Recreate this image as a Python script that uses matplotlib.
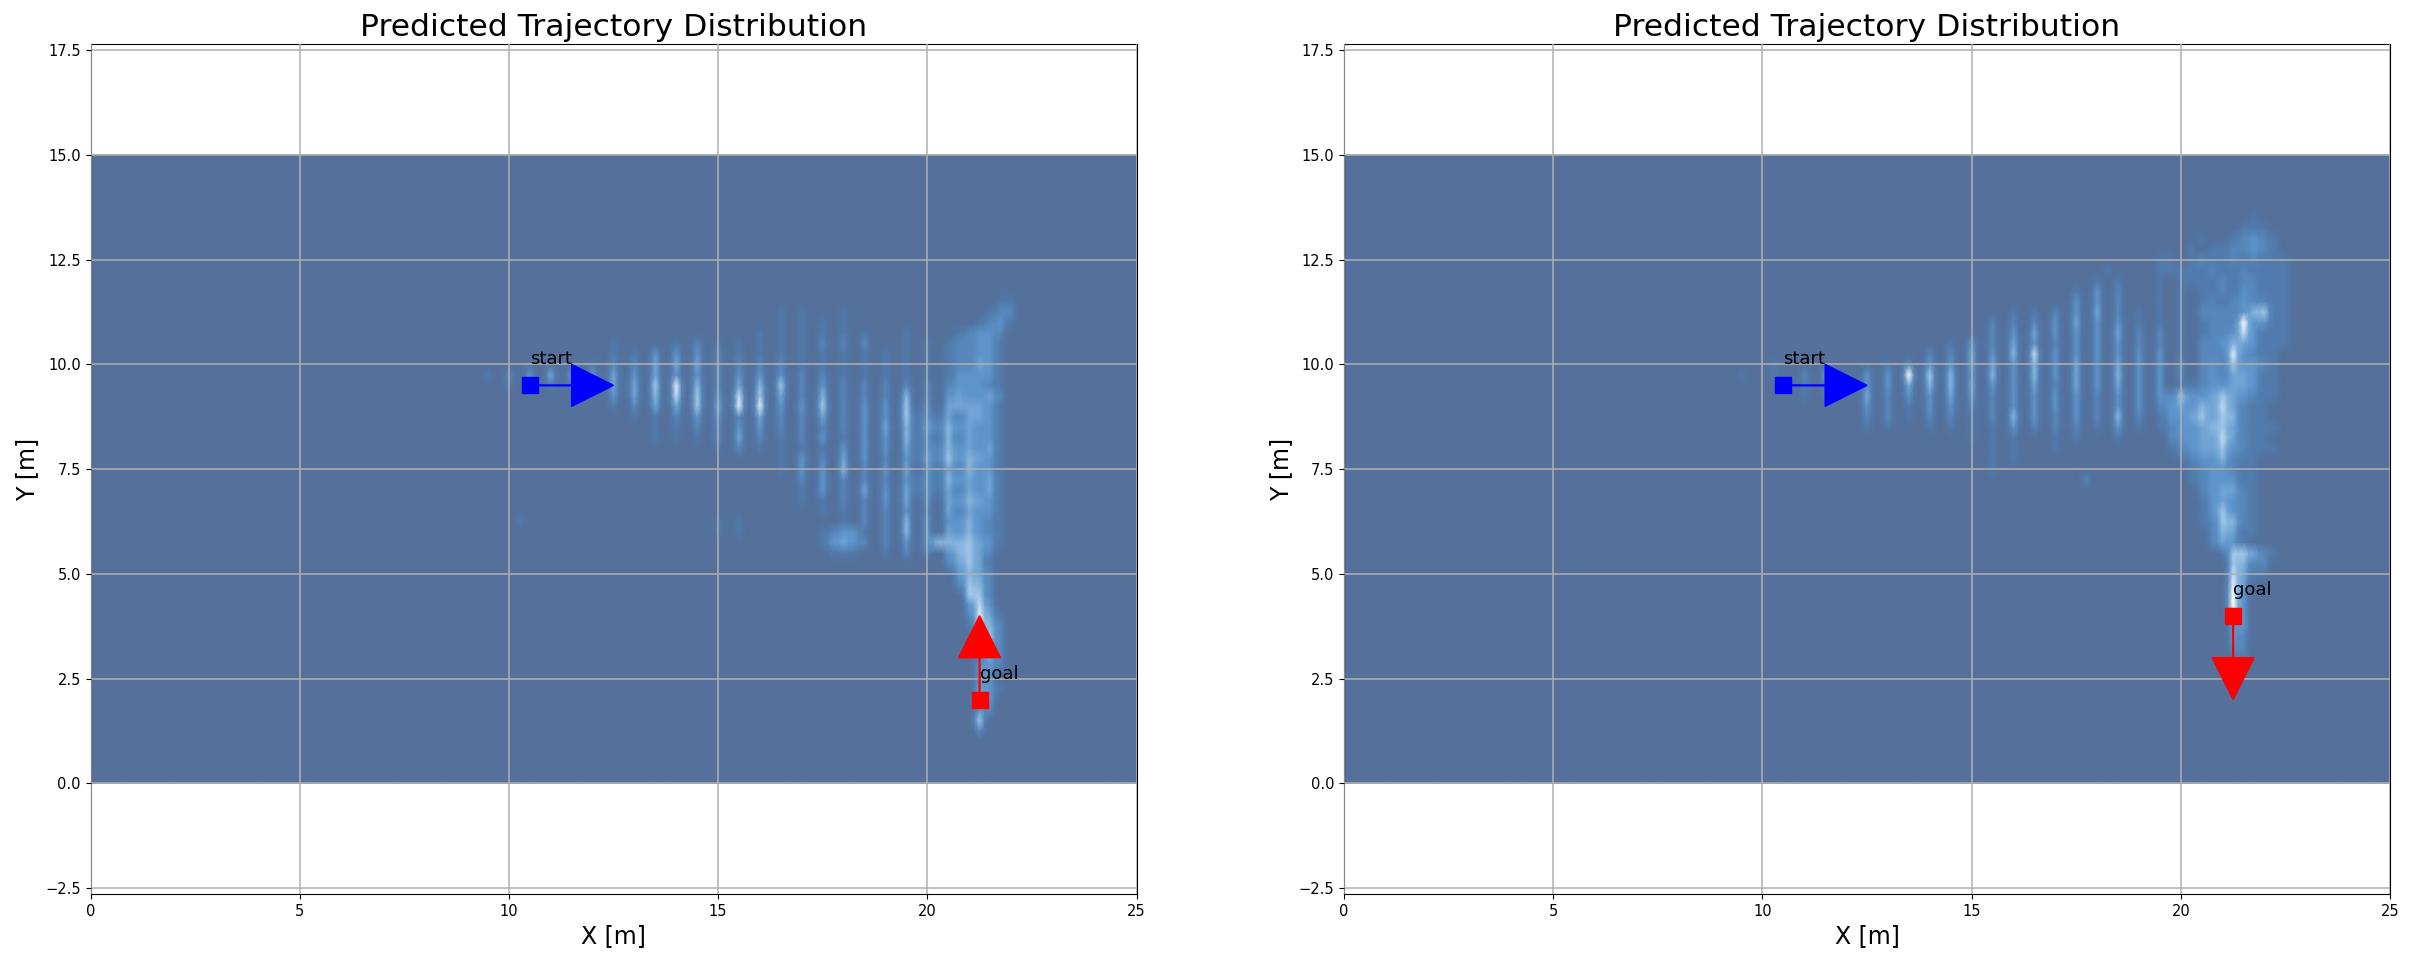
import numpy as np
import matplotlib
matplotlib.use('Agg')
import matplotlib.pyplot as plt
from matplotlib.colors import LinearSegmentedColormap

# heat values, 0-9, one digit per 0.25 m, one group per metre
left_x0 = 9
left_ytop = 11.5
left_rows = [
    "0000 0000 0000 0000 0000 0000 0000 0000 0000 0000 0000 0000 0001 1000",
    "0000 0000 0000 0000 0000 0000 0000 0010 1000 1000 0000 0000 0012 2000",
    "0000 0000 0000 0000 0000 0000 0000 0010 1010 1000 0000 0000 0123 1000",
    "0000 0000 0000 0000 0000 0000 0000 1010 1010 1010 0010 0001 2332 0000",
    "0000 0000 0000 0010 0000 1020 1010 1010 1020 2020 0010 1012 2331 0000",
    "0000 0000 0000 0010 1030 3030 2010 1010 1010 1010 1010 1012 2331 0000",
    "0000 0000 0000 1020 2040 4040 2020 2020 1010 1010 1010 1012 2431 0000",
    "0010 2030 4030 3040 3040 3030 2030 3030 2020 1010 1010 1013 3331 0000",
    "0000 1010 1010 1040 4060 8050 2040 5060 2030 2020 2020 2023 3321 0000",
    "0000 0000 0000 0030 4050 7060 3070 6040 2050 2020 2050 2034 3342 0000",
    "0000 0000 0000 0010 2040 4060 4080 8030 3060 2030 3060 3044 4431 0000",
    "0000 0000 0000 0000 1010 2030 3020 4020 2040 2030 3061 3142 4431 0000",
    "0000 0000 0000 0000 0010 1020 2030 3020 2020 2030 4051 4253 4331 0000",
    "0000 0000 0000 0000 0010 1010 2040 2010 2030 1030 3051 3152 4331 0000",
    "0000 0000 0000 0000 0000 0000 1020 1010 1010 3030 3041 3253 4341 0000",
    "0000 0000 0000 0000 0000 0000 0000 0010 3020 4030 2031 4263 5431 0000",
    "0000 0000 0000 0000 0000 0000 0000 0010 3030 5020 3040 3142 5331 0000",
    "0000 0000 0000 0000 0000 0000 0000 0000 2030 2020 2031 3153 4341 0000",
    "0000 0000 0000 0000 0000 0000 0000 0000 1030 2040 3041 3142 4341 0000",
    "0000 0000 0000 0000 0000 0000 0000 0000 1010 2020 3040 3043 5431 0000",
    "0000 0000 0000 0000 0000 0000 0000 0000 0010 1020 2030 2042 4331 0000",
    "0000 0100 0000 0000 0000 0000 1010 0000 0000 1020 2050 3033 5321 0000",
    "0000 0000 0000 0000 0000 0000 1010 0000 0012 3310 2050 3043 5321 0000",
    "0000 0000 0000 0000 0000 0000 0000 0000 0013 4320 2030 3555 6431 0000",
    "0000 0000 0000 0000 0000 0000 0000 0000 0001 1100 1020 2035 6420 0000",
    "0000 0000 0000 0000 0000 0000 0000 0000 0000 0000 0000 0024 6410 0000",
    "0000 0000 0000 0000 0000 0000 0000 0000 0000 0000 0000 0003 5420 0000",
    "0000 0000 0000 0000 0000 0000 0000 0000 0000 0000 0000 0002 6520 0000",
    "0000 0000 0000 0000 0000 0000 0000 0000 0000 0000 0000 0000 6620 0000",
    "0000 0000 0000 0000 0000 0000 0000 0000 0000 0000 0000 0000 3730 0000",
    "0000 0000 0000 0000 0000 0000 0000 0000 0000 0000 0000 0000 2841 0000",
    "0000 0000 0000 0000 0000 0000 0000 0000 0000 0000 0000 0000 1752 0000",
    "0000 0000 0000 0000 0000 0000 0000 0000 0000 0000 0000 0000 0462 0000",
    "0000 0000 0000 0000 0000 0000 0000 0000 0000 0000 0000 0000 0252 0000",
    "0000 0000 0000 0000 0000 0000 0000 0000 0000 0000 0000 0000 0242 0000",
    "0000 0000 0000 0000 0000 0000 0000 0000 0000 0000 0000 0000 0331 0000",
    "0000 0000 0000 0000 0000 0000 0000 0000 0000 0000 0000 0000 0330 0000",
    "0000 0000 0000 0000 0000 0000 0000 0000 0000 0000 0000 0000 0431 0000",
    "0000 0000 0000 0000 0000 0000 0000 0000 0000 0000 0000 0000 0430 0000",
    "0000 0000 0000 0000 0000 0000 0000 0000 0000 0000 0000 0000 0320 0000",
    "0000 0000 0000 0000 0000 0000 0000 0000 0000 0000 0000 0000 0600 0000",
    "0000 0000 0000 0000 0000 0000 0000 0000 0000 0000 0000 0000 0200 0000",
]

right_x0 = 9
right_ytop = 14.0
right_rows = [
    "0000 0000 0000 0000 0000 0000 0000 0000 0000 0000 0000 0000 0000 0000 0000 0000",
    "0000 0000 0000 0000 0000 0000 0000 0000 0000 0000 0000 0000 0000 0000 0000 0000",
    "0000 0000 0000 0000 0000 0000 0000 0000 0000 0000 0000 0000 0001 0000 0000 0000",
    "0000 0000 0000 0000 0000 0000 0000 0000 0000 0000 0000 0000 0011 1000 0000 0000",
    "0000 0000 0000 0000 0000 0000 0000 0000 0000 0000 0000 0010 0123 2100 0000 0000",
    "0000 0000 0000 0000 0000 0000 0000 0000 0000 0000 0000 0101 1223 2100 0000 0000",
    "0000 0000 0000 0000 0000 0000 0000 0000 0000 0000 0011 0121 1212 1110 0000 0000",
    "0000 0000 0000 0000 0000 0000 0000 0000 0000 0100 0011 1112 1121 1110 0000 0000",
    "0000 0000 0000 0000 0000 0000 0000 0000 0000 1010 0010 1111 2122 1110 0000 0000",
    "0000 0000 0000 0000 0000 0000 0000 0000 0010 3020 0010 1011 2132 1110 0000 0000",
    "0000 0000 0000 0000 0000 0000 0000 0000 0030 3020 0010 1012 1232 2110 0000 0000",
    "0000 0000 0000 0000 0000 0000 0000 1010 2030 4020 1010 1022 2235 6110 0000 0000",
    "0000 0000 0000 0000 0000 0000 0020 2020 3040 3030 1010 1012 2293 3110 0000 0000",
    "0000 0000 0000 0000 0000 0000 0020 3040 3030 3040 2020 1012 2373 1110 0000 0000",
    "0000 0000 0000 0000 0000 0010 3020 4030 2030 3030 2020 1022 3543 1110 0000 0000",
    "0000 0000 0000 0000 0000 2020 4030 5070 3030 3030 3030 1022 2832 1100 0000 0000",
    "0000 0100 0000 0000 1020 3030 4040 3050 3040 3040 3030 2023 2633 2100 0000 0000",
    "0010 0100 2030 1030 3090 6050 3050 3050 3040 3050 3030 2023 2443 1100 0000 0000",
    "0000 0000 1010 0030 3040 5050 4030 3040 2040 3040 3030 1123 3443 1100 0000 0000",
    "0000 0000 1010 0040 2030 3040 3020 3030 3030 2030 3032 6334 6432 1100 0000 0000",
    "0000 0000 0000 0030 2010 3030 2020 3030 3030 2030 3023 4354 7421 1000 0000 0000",
    "0000 0000 0000 0020 2010 2020 1020 5030 2030 2050 2013 3464 6521 1000 0000 0000",
    "0000 0000 0000 0010 1000 1010 1010 3020 2020 1030 1012 3345 6421 1100 0000 0000",
    "0000 0000 0000 0000 0000 0000 1010 1000 1010 0010 0002 3344 7421 1000 0000 0000",
    "0000 0000 0000 0000 0000 0000 0010 1000 1000 0000 0001 2344 6321 1100 0000 0000",
    "0000 0000 0000 0000 0000 0000 0010 1000 0000 0000 0000 1233 5211 0000 0000 0000",
    "0000 0000 0000 0000 0000 0000 0010 0000 0000 0000 0000 0123 3211 0000 0000 0000",
    "0000 0000 0000 0000 0000 0000 0000 0000 0002 0000 0000 0123 3311 0000 0000 0000",
    "0000 0000 0000 0000 0000 0000 0000 0000 0000 0000 0000 0023 4421 0000 0000 0000",
    "0000 0000 0000 0000 0000 0000 0000 0000 0000 0000 0000 0013 4321 0000 0000 0000",
    "0000 0000 0000 0000 0000 0000 0000 0000 0000 0000 0000 0013 6321 0000 0000 0000",
    "0000 0000 0000 0000 0000 0000 0000 0000 0000 0000 0000 0012 6521 0000 0000 0000",
    "0000 0000 0000 0000 0000 0000 0000 0000 0000 0000 0000 0002 5411 0000 0000 0000",
    "0000 0000 0000 0000 0000 0000 0000 0000 0000 0000 0000 0002 4310 0000 0000 0000",
    "0000 0000 0000 0000 0000 0000 0000 0000 0000 0000 0000 0000 1664 2100 0000 0000",
    "0000 0000 0000 0000 0000 0000 0000 0000 0000 0000 0000 0000 0652 2000 0000 0000",
    "0000 0000 0000 0000 0000 0000 0000 0000 0000 0000 0000 0000 0741 1000 0000 0000",
    "0000 0000 0000 0000 0000 0000 0000 0000 0000 0000 0000 0000 0840 0000 0000 0000",
    "0000 0000 0000 0000 0000 0000 0000 0000 0000 0000 0000 0000 0930 0000 0000 0000",
    "0000 0000 0000 0000 0000 0000 0000 0000 0000 0000 0000 0000 0930 0000 0000 0000",
    "0000 0000 0000 0000 0000 0000 0000 0000 0000 0000 0000 0000 0630 0000 0000 0000",
    "0000 0000 0000 0000 0000 0000 0000 0000 0000 0000 0000 0000 0330 0000 0000 0000",
    "0000 0000 0000 0000 0000 0000 0000 0000 0000 0000 0000 0000 0320 0000 0000 0000",
    "0000 0000 0000 0000 0000 0000 0000 0000 0000 0000 0000 0000 0220 0000 0000 0000",
    "0000 0000 0000 0000 0000 0000 0000 0000 0000 0000 0000 0000 0110 0000 0000 0000",
]

start_x = 10.5
start_y = 9.5
left_goal = (21.25, 2.0)
right_goal = (21.25, 4.0)
left_goal_dir = 1.0
right_goal_dir = -1.0
x_ticks = [0, 5, 10, 15, 20, 25]
y_ticks = [-2.5, 0, 2.5, 5, 7.5, 10, 12.5, 15, 17.5]

heat_cmap = LinearSegmentedColormap.from_list(
    'heat', [(0, '#54709b'), (0.12, '#517cae'), (0.35, '#5f96cc'), (0.6, '#8fbbe2'),
             (0.8, '#c6def2'), (1, '#ffffff')])


def make_grid(rows, x0, ytop):
    xs = np.arange(0, 25.25, 0.25)
    ys = np.arange(0, 15.25, 0.25)
    grid = np.zeros((len(ys), len(xs)))
    for r, row in enumerate(rows):
        digits = row.replace(' ', '')
        j = int(round((ytop - r * 0.25) / 0.25))
        i0 = int(round(x0 / 0.25))
        grid[j, i0:i0 + len(digits)] = [int(d) for d in digits]

    # extra nodes half way between columns, keeps the stripes thin
    fine = np.zeros((grid.shape[0], 2 * grid.shape[1] - 1))
    fine[:, ::2] = grid
    low = np.minimum(grid[:, :-1], grid[:, 1:])
    high = np.maximum(grid[:, :-1], grid[:, 1:])
    fine[:, 1::2] = 0.75 * low + 0.25 * high
    return np.arange(0, 25.125, 0.125), ys, fine


def draw_panel(ax, rows, x0, ytop, goal, goal_dir):
    xs, ys, grid = make_grid(rows, x0, ytop)
    ax.pcolormesh(xs, ys, grid, shading='gouraud', cmap=heat_cmap, vmin=0, vmax=9, rasterized=True)

    ax.plot(start_x, start_y, 's', color='blue', markersize=11.5, zorder=4)
    ax.arrow(start_x, start_y, 1, 0, color='blue', head_width=1, head_length=1, width=0.02,
             zorder=4)
    ax.text(start_x, start_y + 0.5, 'start', fontsize=13, color='black', zorder=5)

    ax.plot(goal[0], goal[1], 's', color='red', markersize=11.5, zorder=4)
    ax.arrow(goal[0], goal[1], 0, goal_dir, color='red', head_width=1, head_length=1, width=0.02,
             zorder=4)
    ax.text(goal[0], goal[1] + 0.5, 'goal', fontsize=13, color='black', zorder=5)

    ax.set_xlim(0, 25)
    ax.set_ylim(-2.65, 17.65)
    ax.set_xticks(x_ticks)
    ax.set_yticks(y_ticks)
    ax.tick_params(labelsize=10.5)
    ax.grid(True, color='#b0b0b0', linewidth=1.1)
    ax.set_axisbelow(False)
    ax.set_title('Predicted Trajectory Distribution', fontsize=22.6)
    ax.set_xlabel('X [m]', fontsize=17)
    ax.set_ylabel('Y [m]', fontsize=17)


fig = plt.figure(figsize=(24.10, 9.61), dpi=100)
ax1 = fig.add_axes([90.5 / 2410, 1 - 894.3 / 961, 1046 / 2410, 850.3 / 961])
ax2 = fig.add_axes([1344 / 2410, 1 - 894.3 / 961, 1046 / 2410, 850.3 / 961])

draw_panel(ax1, left_rows, left_x0, left_ytop, left_goal, left_goal_dir)
draw_panel(ax2, right_rows, right_x0, right_ytop, right_goal, right_goal_dir)

plt.savefig('out.png', dpi=100)
